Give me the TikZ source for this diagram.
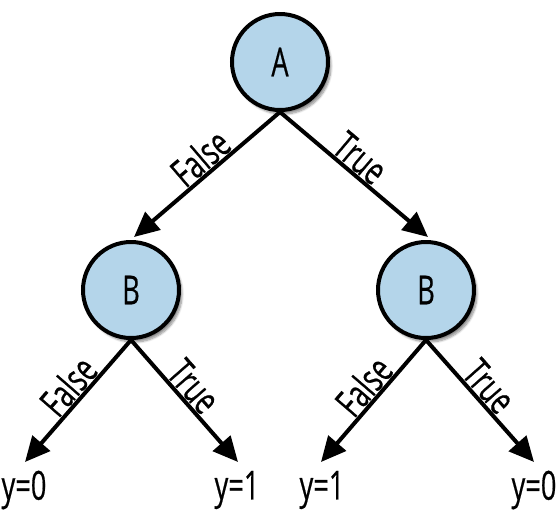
\documentclass[tikz,border=0pt]{standalone}
\usepackage{fontspec}
\setmainfont{Open Sans}[FakeBold=0.6]
\usetikzlibrary{arrows.meta, shadows.blur}
\definecolor{nodeblue}{RGB}{180, 213, 234}
\newcommand{\narrow}[1]{\scalebox{0.68}[1]{#1}}

\begin{document}
\begin{tikzpicture}[x=1pt, y=-1pt,
  decnode/.style={circle, draw=black, line width=4pt, fill=nodeblue,
    minimum size=96pt, inner sep=0pt, font=\fontsize{40}{42}\selectfont,
    blur shadow={shadow xshift=3pt, shadow yshift=-4pt, shadow blur steps=8, shadow opacity=45}},
  branch/.style={line width=4pt, -{Triangle[length=25pt, width=23pt]}},
  edgelab/.style={sloped, above, font=\fontsize{39}{40}\selectfont, inner sep=0.5pt},
  leaf/.style={font=\fontsize{40}{42}\selectfont, inner sep=0pt}]

\useasboundingbox (0,0) rectangle (560,515);

% Nodos de decision
\node[decnode] (a) at (280,62) {\narrow{A}};
\node[decnode] (bl) at (131,290) {\narrow{B}};
\node[decnode] (br) at (426,290) {\narrow{B}};

% Puntas de flecha
\coordinate (tl) at (134,237);
\coordinate (tr) at (428,237);
\coordinate (tll) at (25,462);
\coordinate (tlr) at (238,462);
\coordinate (trl) at (321,462);
\coordinate (trr) at (534,462);

% Ramas desde A
\draw[branch] (a.south) -- node[edgelab, pos=0.47] {\narrow{False}} (tl);
\draw[branch] (a.south) -- node[edgelab, pos=0.47] {\narrow{True}} (tr);

% Ramas desde B
\draw[branch] (bl.south) -- node[edgelab, pos=0.47] {\narrow{False}} (tll);
\draw[branch] (bl.south) -- node[edgelab, pos=0.47] {\narrow{True}} (tlr);
\draw[branch] (br.south) -- node[edgelab, pos=0.47] {\narrow{False}} (trl);
\draw[branch] (br.south) -- node[edgelab, pos=0.47] {\narrow{True}} (trr);

% Hojas
\node[leaf] (l1) at (24,490) {\narrow{y=0}};
\node[leaf] (l2) at (237,490) {\narrow{y=1}};
\node[leaf] (l3) at (322,490) {\narrow{y=1}};
\node[leaf] (l4) at (534,490) {\narrow{y=0}};

\end{tikzpicture}
\end{document}
